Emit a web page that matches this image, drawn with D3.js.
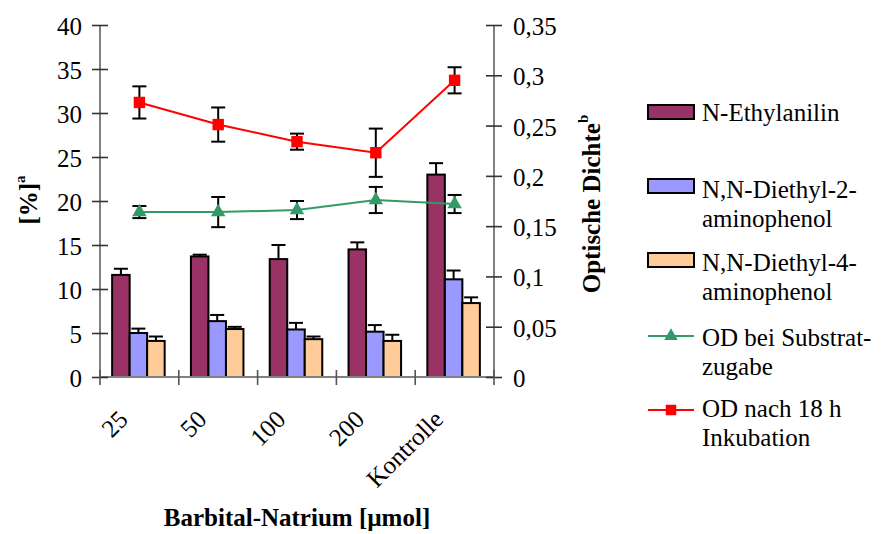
<!DOCTYPE html>
<html>
<head>
<meta charset="utf-8">
<script src="https://cdn.jsdelivr.net/npm/d3@7"></script>
<style>
  html, body { margin: 0; padding: 0; background: #fff; }
</style>
</head>
<body>
<svg id="chart" width="882" height="534"></svg>
<script>
// Barbital-Natrium concentrations (x categories)
const categories = ["25", "50", "100", "200", "Kontrolle"];

// Metabolite yields [%] with upper error
const ethylanilin    = [11.6, 13.7, 13.4, 14.5, 23.0];
const ethylanilinErr = [0.7, 0.2, 1.6, 0.8, 1.3];
const diethyl2       = [5.0, 6.35, 5.4, 5.15, 11.1];
const diethyl2Err    = [0.5, 0.7, 0.75, 0.75, 1.0];
const diethyl4       = [4.1, 5.45, 4.3, 4.1, 8.4];
const diethyl4Err    = [0.5, 0.25, 0.3, 0.7, 0.65];

// Optical density (right axis)
const odStart    = [0.164, 0.164, 0.166, 0.176, 0.172];
const odStartErr = [0.006, 0.015, 0.009, 0.013, 0.009];
const od18h      = [0.273, 0.251, 0.234, 0.223, 0.295];
const od18hErr   = [0.016, 0.017, 0.008, 0.024, 0.013];

// Tick values
const leftTicks  = [0, 5, 10, 15, 20, 25, 30, 35, 40];
const rightTicks = [0, 0.05, 0.1, 0.15, 0.2, 0.25, 0.3, 0.35];

const FONT = "Liberation Serif";
const svg = d3.select("#chart");
const plot = { left: 100, right: 494, top: 25, bottom: 377 };

const x0 = d3.scaleBand().domain(categories).range([plot.left, plot.right]).padding(0);
const yL = d3.scaleLinear().domain([0, 40]).range([plot.bottom, plot.top]);
const yR = d3.scaleLinear().domain([0, 0.35]).range([plot.bottom, plot.top]);

const barSeries = [
  { name: "N-Ethylanilin", values: ethylanilin, err: ethylanilinErr, color: "#993366" },
  { name: "N,N-Diethyl-2-aminophenol", values: diethyl2, err: diethyl2Err, color: "#9999FF" },
  { name: "N,N-Diethyl-4-aminophenol", values: diethyl4, err: diethyl4Err, color: "#FFCC99" }
];
const groupW = x0.bandwidth() * 2 / 3;
const x1 = d3.scaleBand().domain(barSeries.map(s => s.name)).range([0, groupW]).padding(0);
const groupStart = c => x0(c) + (x0.bandwidth() - groupW) / 2 - 1;

// Bars
barSeries.forEach(s => {
  const g = svg.append("g");
  g.selectAll("rect").data(categories).join("rect")
    .attr("x", c => groupStart(c) + x1(s.name))
    .attr("y", (c, i) => yL(s.values[i]))
    .attr("width", x1.bandwidth())
    .attr("height", (c, i) => yL(0) - yL(s.values[i]))
    .attr("fill", s.color)
    .attr("stroke", "#000")
    .attr("stroke-width", 2);
  // upper error bars
  categories.forEach((c, i) => {
    const cx = groupStart(c) + x1(s.name) + x1.bandwidth() / 2;
    const yTop = yL(s.values[i] + s.err[i]);
    g.append("line").attr("x1", cx).attr("x2", cx)
      .attr("y1", yL(s.values[i])).attr("y2", yTop)
      .attr("stroke", "#000").attr("stroke-width", 2);
    g.append("line").attr("x1", cx - 7).attr("x2", cx + 7)
      .attr("y1", yTop).attr("y2", yTop)
      .attr("stroke", "#000").attr("stroke-width", 2);
  });
});

// Axes
const axisColor = "#808080";
svg.append("line").attr("x1", plot.left).attr("x2", plot.left)
  .attr("y1", plot.top).attr("y2", plot.bottom).attr("stroke", axisColor).attr("stroke-width", 2);
svg.append("line").attr("x1", plot.right).attr("x2", plot.right)
  .attr("y1", plot.top).attr("y2", plot.bottom).attr("stroke", axisColor).attr("stroke-width", 2);
svg.append("line").attr("x1", plot.left).attr("x2", plot.right)
  .attr("y1", plot.bottom).attr("y2", plot.bottom).attr("stroke", axisColor).attr("stroke-width", 2);

const leftAxis = svg.append("g").attr("transform", `translate(${plot.left},0)`)
  .call(d3.axisLeft(yL).tickValues(leftTicks).tickSize(8).tickPadding(10).tickFormat(d3.format("d")));
leftAxis.selectAll(".tick line").clone().attr("x2", 8);
const rightAxis = svg.append("g").attr("transform", `translate(${plot.right},0)`)
  .call(d3.axisRight(yR).tickValues(rightTicks).tickSize(8).tickPadding(11)
    .tickFormat(d => d === 0 ? "0" : String(+d.toFixed(2)).replace(".", ",")));
rightAxis.selectAll(".tick line").clone().attr("x2", -8);
[leftAxis, rightAxis].forEach(a => {
  a.attr("font-family", FONT).attr("font-size", 25);
  a.select(".domain").remove();
  a.selectAll(".tick line").attr("stroke", "#333").attr("stroke-width", 1.6);
  a.selectAll(".tick text").attr("fill", "#000").attr("dy", "0.38em");
});

// Category boundary ticks on the x axis
const bounds = categories.map(c => x0(c)).concat([plot.right]);
svg.append("g").selectAll("line").data(bounds).join("line")
  .attr("x1", d => d).attr("x2", d => d)
  .attr("y1", plot.bottom - 7).attr("y2", plot.bottom + 8)
  .attr("stroke", "#555").attr("stroke-width", 1.6);

// Rotated category labels
svg.append("g").selectAll("text").data(categories).join("text")
  .attr("transform", c => `translate(${x0(c) + x0.bandwidth() / 2 - 10},421) rotate(-45)`)
  .attr("text-anchor", "end")
  .attr("font-size", 25)
  .text(c => c);

// OD lines with error bars and markers
const lineX = c => x0(c) + x0.bandwidth() / 2;
const odSeries = [
  { name: "start", values: odStart, err: odStartErr, color: "#339966", marker: "triangle" },
  { name: "18h", values: od18h, err: od18hErr, color: "#FF0000", marker: "square" }
];
odSeries.forEach(s => {
  const g = svg.append("g");
  categories.forEach((c, i) => {
    const cx = lineX(c), lo = yR(s.values[i] - s.err[i]), hi = yR(s.values[i] + s.err[i]);
    g.append("line").attr("x1", cx).attr("x2", cx).attr("y1", lo).attr("y2", hi)
      .attr("stroke", "#000").attr("stroke-width", 2);
    [lo, hi].forEach(yy => g.append("line").attr("x1", cx - 7).attr("x2", cx + 7)
      .attr("y1", yy).attr("y2", yy).attr("stroke", "#000").attr("stroke-width", 2));
  });
  g.append("path").datum(s.values)
    .attr("d", d3.line().x((d, i) => lineX(categories[i])).y(d => yR(d)))
    .attr("fill", "none").attr("stroke", s.color).attr("stroke-width", 2);
  const sym = s.marker === "square" ? d3.symbolSquare : d3.symbolTriangle;
  const size = s.marker === "square" ? 130 : 90;
  g.selectAll("path.m").data(s.values).join("path").attr("class", "m")
    .attr("transform", (d, i) => `translate(${lineX(categories[i])},${yR(d)})`)
    .attr("d", d3.symbol(sym, size)).attr("fill", s.color);
});

// Axis titles
const leftTitle = svg.append("text")
  .attr("transform", "translate(37,200) rotate(-90)")
  .attr("text-anchor", "middle").attr("font-size", 25).attr("font-weight", "bold");
leftTitle.append("tspan").text("[%]");
leftTitle.append("tspan").attr("dy", -12).attr("font-size", 15).text("a");

const rightTitle = svg.append("text")
  .attr("transform", "translate(600,204) rotate(-90)")
  .attr("text-anchor", "middle").attr("font-size", 25).attr("font-weight", "bold");
rightTitle.append("tspan").text("Optische Dichte");
rightTitle.append("tspan").attr("dy", -12).attr("font-size", 15).text("b");

svg.append("text").attr("x", 297).attr("y", 526).attr("text-anchor", "middle")
  .attr("font-size", 25).attr("font-weight", "bold").text("Barbital-Natrium [µmol]");

// Legend
const legend = svg.append("g").attr("font-size", 25);
const boxes = [
  { color: barSeries[0].color, y: 105, lines: ["N-Ethylanilin"], base: 121 },
  { color: barSeries[1].color, y: 179, lines: ["N,N-Diethyl-2-", "aminophenol"], base: 198 },
  { color: barSeries[2].color, y: 253, lines: ["N,N-Diethyl-4-", "aminophenol"], base: 271 }
];
boxes.forEach(b => {
  legend.append("rect").attr("x", 648).attr("y", b.y).attr("width", 46).attr("height", 14)
    .attr("fill", b.color).attr("stroke", "#000").attr("stroke-width", 2);
  b.lines.forEach((t, k) => legend.append("text").attr("x", 702).attr("y", b.base + k * 29).text(t));
});
const lineItems = [
  { s: odSeries[0], y: 336, lines: ["OD bei Substrat-", "zugabe"], base: 346 },
  { s: odSeries[1], y: 410, lines: ["OD nach 18 h", "Inkubation"], base: 417 }
];
lineItems.forEach(it => {
  legend.append("line").attr("x1", 648).attr("x2", 694).attr("y1", it.y).attr("y2", it.y)
    .attr("stroke", it.s.color).attr("stroke-width", 2);
  const sym = it.s.marker === "square" ? d3.symbolSquare : d3.symbolTriangle;
  legend.append("path").attr("transform", `translate(671,${it.y})`)
    .attr("d", d3.symbol(sym, it.s.marker === "square" ? 110 : 80)).attr("fill", it.s.color);
  it.lines.forEach((t, k) => legend.append("text").attr("x", 702).attr("y", it.base + k * 29).text(t));
});

// Every label uses the serif face
svg.selectAll("text").attr("font-family", FONT);
</script>
</body>
</html>
